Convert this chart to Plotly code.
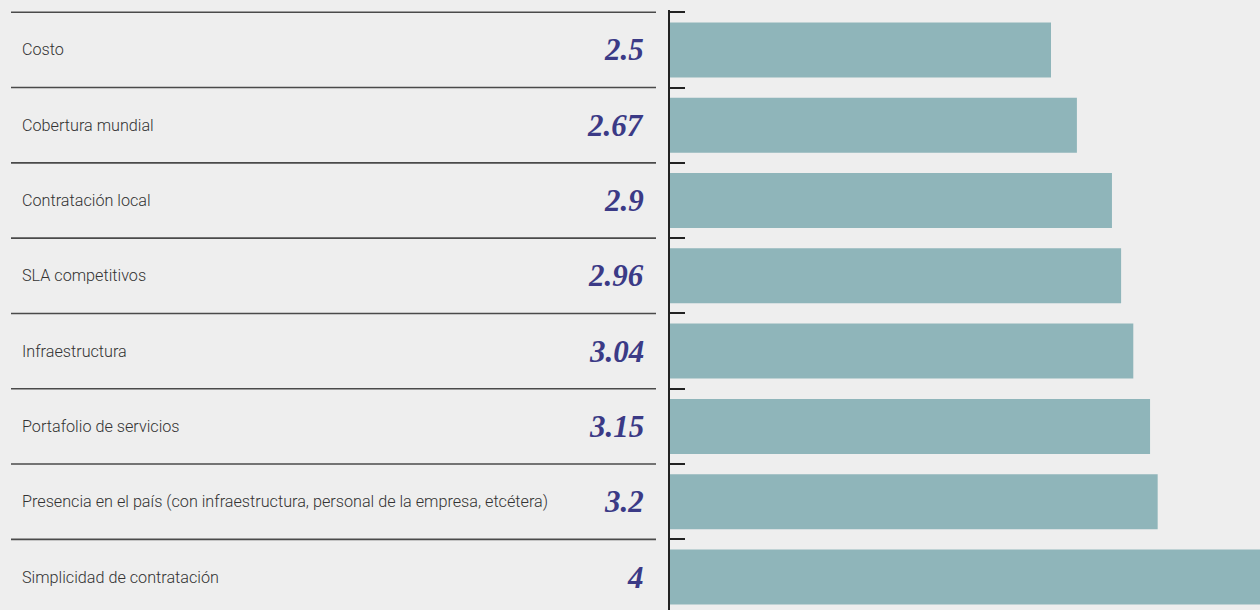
import plotly.graph_objects as go

categories = [
    "Costo",
    "Cobertura mundial",
    "Contratación local",
    "SLA competitivos",
    "Infraestructura",
    "Portafolio de servicios",
    "Presencia en el país (con infraestructura, personal de la empresa, etcétera)",
    "Simplicidad de contratación",
]
values = [2.5, 2.67, 2.9, 2.96, 3.04, 3.15, 3.2, 4]
value_labels = ["2.5", "2.67", "2.9", "2.96", "3.04", "3.15", "3.2", "4"]

BG = "#eeeeee"
BAR = "#8fb5ba"
VALUE_COLOR = "#3b3a86"

W, H = 1260, 610
ML, MR, MT, MB = 670, 0, 10, 0
plot_w = W - ML - MR

def px_to_paper_x(px):
    return (px - ML) / plot_w

n = len(categories)
idx = list(range(n))

fig = go.Figure()
fig.add_trace(go.Bar(
    x=values, y=idx, orientation="h",
    marker=dict(color=BAR, line=dict(width=0)),
    width=0.73, hoverinfo="skip",
))

shapes = []
annotations = []
for k in range(n):
    yb = k - 0.5
    shapes.append(dict(type="line", xref="paper", yref="y",
                       x0=px_to_paper_x(11), x1=px_to_paper_x(656),
                       y0=yb, y1=yb, line=dict(color="#4a4a4a", width=1.6),
                       layer="above"))
for i, (c, vl) in enumerate(zip(categories, value_labels)):
    annotations.append(dict(xref="paper", yref="y", x=px_to_paper_x(20), y=i,
                            text=c, showarrow=False, xanchor="left", yanchor="middle",
                            font=dict(family="Roboto, Arial, sans-serif", weight=300,
                                      size=16.2, color="#333333")))
    annotations.append(dict(xref="paper", yref="y", x=px_to_paper_x(646), y=i,
                            text="<b><i>" + vl + "</i></b>", showarrow=False,
                            xanchor="right", yanchor="middle",
                            font=dict(family="Liberation Serif, Times New Roman, serif",
                                      size=31, color=VALUE_COLOR)))

row_px = 75.3
top = -0.53
fig.update_layout(
    width=W, height=H,
    margin=dict(l=ML, r=MR, t=MT, b=MB, pad=0),
    paper_bgcolor=BG, plot_bgcolor=BG,
    showlegend=False,
    shapes=shapes,
    annotations=annotations,
    xaxis=dict(range=[0, plot_w / 152.4], visible=False, fixedrange=True),
    yaxis=dict(
        range=[top + (H - MT - MB) / row_px, top],
        tickmode="array", tickvals=[i - 0.5 for i in idx] + [n - 0.5],
        showticklabels=False, showgrid=False, zeroline=False,
        showline=True, linecolor="#222222", linewidth=2,
        ticks="inside", ticklen=15, tickwidth=2, tickcolor="#222222",
        layer="below traces", fixedrange=True,
    ),
)
fig.write_html(
    "out.html",
    config={"displayModeBar": False},
    post_script="document.body.style.margin='0';document.body.style.background='#eeeeee';",
)
